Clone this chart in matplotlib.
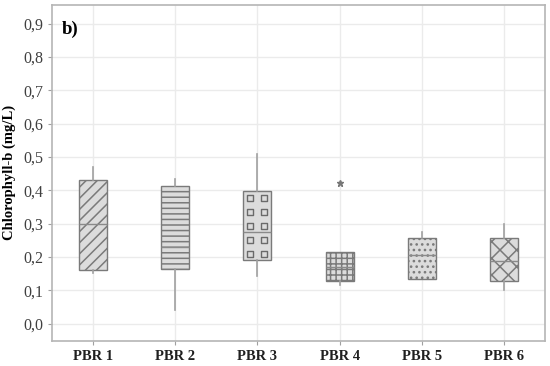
import numpy as np
import matplotlib.pyplot as plt

labels = ['PBR 1', 'PBR 2', 'PBR 3', 'PBR 4', 'PBR 5', 'PBR 6']
whislo = [0.152, 0.04, 0.142, 0.117, 0.133, 0.10]
q1 = [0.162, 0.164, 0.19, 0.128, 0.133, 0.128]
med = [0.30, 0.23, 0.274, 0.17, 0.207, 0.189]
q3 = [0.43, 0.413, 0.397, 0.215, 0.257, 0.257]
whishi = [0.47, 0.435, 0.508, 0.215, 0.275, 0.30]
outliers = [[], [], [], [0.422], [], []]
hatches = ['///', '---', '', '+++', '...', 'xx']

plt.rcParams['font.family'] = ['Liberation Serif', 'DejaVu Serif']
plt.rcParams['hatch.linewidth'] = 1.1

fig = plt.figure(figsize=(5.5, 3.66), dpi=100)
ax = fig.add_axes([0.0945, 0.068, 0.8965, 0.918])

stats = []
for i in range(len(labels)):
    stats.append(dict(whislo=whislo[i], q1=q1[i], med=med[i], q3=q3[i],
                      whishi=whishi[i], fliers=outliers[i], label=labels[i]))

pos = np.arange(1, len(labels) + 1)
edge = '#7a7a7a'
bp = ax.bxp(stats, positions=pos, widths=0.34, patch_artist=True, showcaps=False,
            boxprops=dict(facecolor='#dcdcdc', edgecolor=edge, linewidth=1.0),
            whiskerprops=dict(color='#a0a0a0', linewidth=1.2),
            medianprops=dict(color='#8a8a8a', linewidth=1.0),
            flierprops=dict(marker='*', markersize=5, markerfacecolor='#777777',
                            markeredgecolor='#777777', linewidth=0))
for box, h in zip(bp['boxes'], hatches):
    box.set_hatch(h)
    box.set_edgecolor(edge)

# small squares pattern for PBR 3
i = 2
ys = np.linspace(q1[i], q3[i], 6)[:-1] + (q3[i] - q1[i]) / 10
xs = [pos[i] - 0.085, pos[i] + 0.085]
for x in xs:
    ax.scatter([x] * len(ys), ys, marker='s', s=22, facecolor='#dcdcdc',
               edgecolor='#6a6a6a', linewidth=1.0, zorder=3)

ax.set_xlim(0.5, 6.5)
ax.set_ylim(-0.052, 0.956)
ax.set_yticks(np.arange(0, 1.0, 0.1))
ax.set_yticklabels([f'{v:.1f}'.replace('.', ',') for v in np.arange(0, 1.0, 0.1)],
                   fontsize=11.5, color='#404040')
ax.set_xticks(pos)
ax.set_xticklabels(labels, fontsize=10.5, fontweight='bold', color='#202020')
ax.tick_params(axis='both', length=3, color='#a0a0a0', width=0.8)
ax.grid(True, color='#ebebeb', linewidth=1.0)
ax.set_axisbelow(True)
for s in ax.spines.values():
    s.set_color('#b5b5b5')
    s.set_linewidth(1.2)

ax.set_ylabel('Chlorophyll-b (mg/L)', fontsize=10.5, fontweight='bold')
ax.yaxis.set_label_coords(-0.072, 0.503)
ax.text(0.02, 0.955, 'b)', transform=ax.transAxes, fontsize=13.5, fontweight='bold',
        va='top', ha='left')

fig.savefig('out.png', dpi=100)
